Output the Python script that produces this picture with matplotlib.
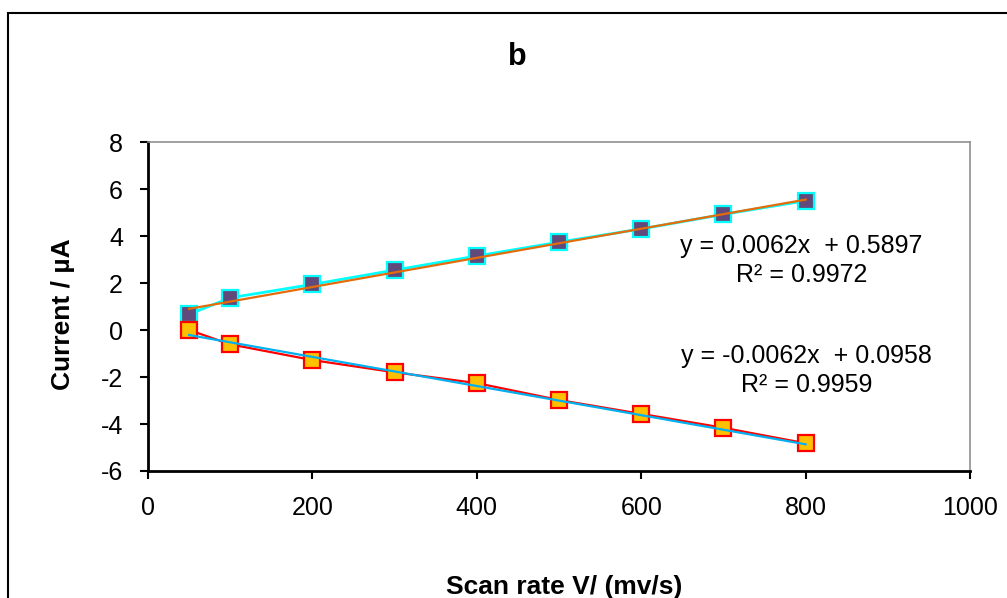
import matplotlib.pyplot as plt
import numpy as np
from matplotlib.patches import Rectangle

plt.rcParams['font.family'] = ['Liberation Sans', 'DejaVu Sans']
plt.rcParams['axes.unicode_minus'] = False

scan_rate = [50, 100, 200, 300, 400, 500, 600, 700, 800]
anodic = [0.67, 1.37, 1.94, 2.55, 3.15, 3.74, 4.30, 4.92, 5.50]
cathodic = [0.00, -0.61, -1.28, -1.80, -2.26, -2.98, -3.57, -4.16, -4.82]

fit_up = (0.0062, 0.5897, 0.9972)
fit_down = (-0.0062, 0.0958, 0.9959)

fig = plt.figure(figsize=(10.07, 5.98), dpi=100)
ax = fig.add_axes([148 / 1007, 1 - 471 / 598, (970 - 148) / 1007, (471 - 142) / 598])

# outer chart border (only left and top visible in the picture)
fig.patches.append(Rectangle((8 / 1007, -0.1), 1.2, 1 - 13 / 598 + 0.1,
                             transform=fig.transFigure, fill=False,
                             edgecolor='black', linewidth=1.5, clip_on=False))

ax.plot(scan_rate, anodic, color='#00FFFF', linewidth=2, marker='s',
        markersize=11.5, markerfacecolor='#604A7B', markeredgecolor='#00FFFF',
        markeredgewidth=1.6, zorder=3)
ax.plot(scan_rate, cathodic, color='#FF0000', linewidth=1.6, marker='s',
        markersize=11.5, markerfacecolor='#FFC000', markeredgecolor='#FF0000',
        markeredgewidth=1.6, zorder=3)

xs = np.array([scan_rate[0], scan_rate[-1]])
ax.plot(xs, fit_up[0] * xs + fit_up[1], color='#E46C0A', linewidth=1.6, zorder=4)
ax.plot(xs, fit_down[0] * xs + fit_down[1], color='#00B0F0', linewidth=1.6, zorder=4)

ax.text(795, 2.95, f"y = {fit_up[0]}x  + {fit_up[1]}\nR² = {fit_up[2]}",
        ha='center', va='center', fontsize=18, linespacing=1.28)
ax.text(801, -1.72, f"y = {fit_down[0]}x  + {fit_down[1]}\nR² = {fit_down[2]}",
        ha='center', va='center', fontsize=18, linespacing=1.28)

ax.set_xlim(0, 1000)
ax.set_ylim(-6, 8)
ax.set_xticks(range(0, 1001, 200))
ax.set_yticks(range(-6, 9, 2))
ax.tick_params(axis='both', labelsize=18, direction='out', length=6,
               width=1.5, pad=12)

for side in ['left', 'bottom']:
    ax.spines[side].set_linewidth(2)
    ax.spines[side].set_color('black')
for side in ['top', 'right']:
    ax.spines[side].set_linewidth(1.2)
    ax.spines[side].set_color('#909090')

ax.set_xlabel("Scan rate V/ (mv/s)", fontsize=19, fontweight='bold', va='center')
ax.xaxis.set_label_coords(0.506, -0.352)
ax.set_ylabel("Current / µA", fontsize=19, fontweight='bold', va='center')
ax.yaxis.set_label_coords(-0.103, 0.477)
fig.text(517 / 1007, 1 - 57 / 598, "b", fontsize=22, fontweight='bold',
         ha='center', va='center')

fig.savefig("out.png", dpi=100)
